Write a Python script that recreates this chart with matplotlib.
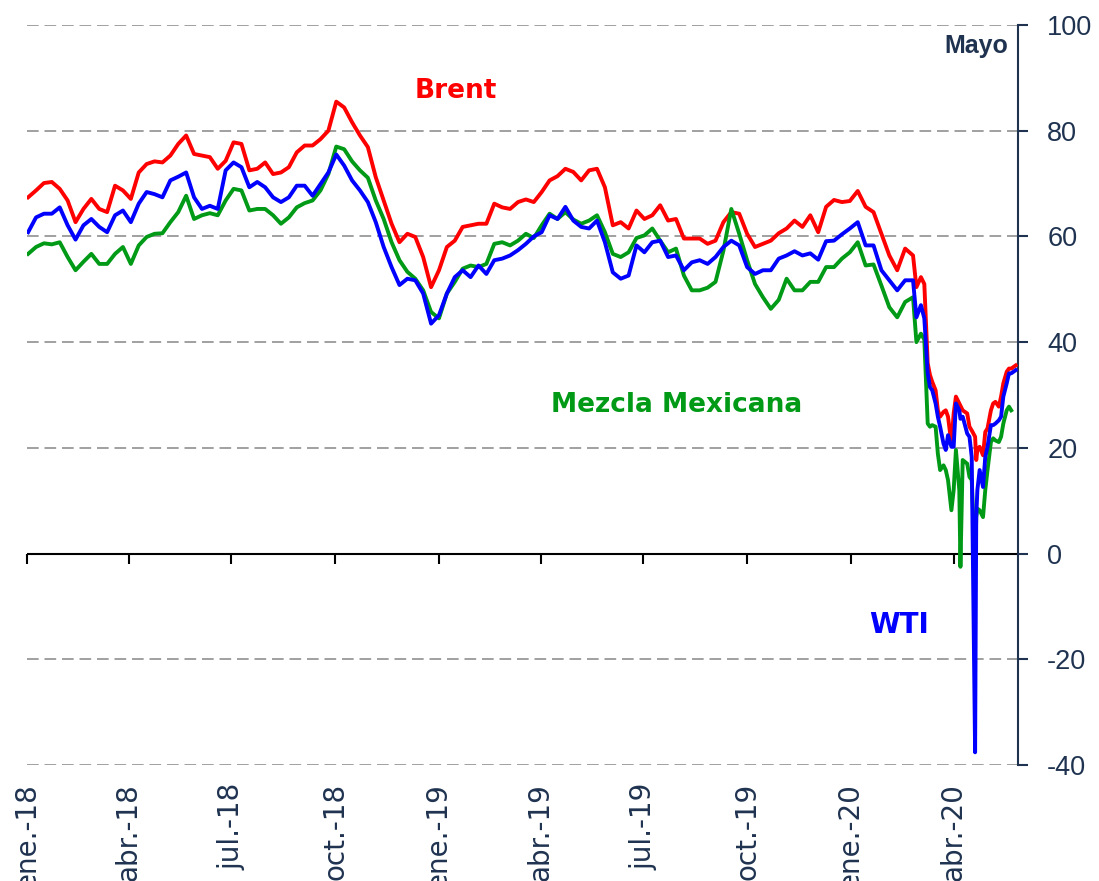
import numpy as np
import pandas as pd
import matplotlib
matplotlib.use("Agg")
import matplotlib.pyplot as plt
import matplotlib.dates as mdates

# weekly readings, 2 Jan 2018 .. 25 Feb 2020 (113 weeks)
week_start = "2018-01-02"
brent_weekly = [
    67.4, 68.7, 70.1, 70.3, 69.0, 66.8, 62.7, 65.2, 67.1, 65.2, 64.6, 69.6, 68.7, 67.1, 72.1, 73.7,
    74.2, 74.0, 75.3, 77.5, 79.1, 75.6, 75.3, 75.0, 72.8, 74.3, 77.8, 77.5, 72.5, 72.8, 74.0, 71.8,
    72.1, 73.1, 75.9, 77.2, 77.2, 78.4, 80.0, 85.5, 84.4, 81.6, 79.1, 76.9, 71.2, 66.8, 62.4, 58.9,
    60.5, 59.9, 56.1, 50.4, 53.6, 58.0, 59.2, 61.8, 62.1, 62.4, 62.4, 66.2, 65.5, 65.2, 66.5, 67.0,
    66.5, 68.4, 70.6, 71.4, 72.8, 72.2, 70.6, 72.5, 72.8, 69.3, 62.1, 62.7, 61.5, 64.9, 63.3, 64.0,
    65.9, 63.0, 63.3, 59.6, 59.6, 59.6, 58.6, 59.2, 62.7, 64.6, 64.3, 60.5, 58.0, 58.6, 59.2, 60.6,
    61.5, 63.0, 61.8, 64.0, 60.8, 65.6, 66.9, 66.5, 66.7, 68.6, 65.6, 64.6, 60.5, 56.4, 53.6, 57.7,
    56.4,
]
wti_weekly = [
    60.8, 63.6, 64.3, 64.3, 65.5, 62.1, 59.4, 62.1, 63.3, 61.8, 60.8, 64.0, 64.9, 62.7, 66.2, 68.4,
    68.0, 67.4, 70.6, 71.3, 72.1, 67.4, 65.2, 65.8, 65.2, 72.5, 74.0, 73.1, 69.3, 70.3, 69.3, 67.4,
    66.5, 67.4, 69.6, 69.6, 67.7, 69.9, 72.1, 75.5, 73.4, 70.6, 68.7, 66.5, 62.7, 58.0, 54.2, 50.8,
    52.0, 51.7, 49.2, 43.5, 45.1, 49.2, 52.3, 53.6, 52.3, 54.5, 52.9, 55.5, 55.8, 56.4, 57.4, 58.6,
    60.0, 60.8, 64.0, 63.3, 65.6, 63.0, 61.8, 61.5, 63.0, 58.9, 53.2, 52.0, 52.6, 58.3, 57.0, 58.9,
    59.2, 56.1, 56.4, 53.6, 55.1, 55.5, 54.8, 56.1, 58.0, 59.2, 58.3, 54.2, 52.9, 53.6, 53.6, 55.8,
    56.4, 57.2, 56.4, 56.8, 55.6, 59.1, 59.2, 60.4, 61.5, 62.7, 58.3, 58.3, 53.6, 51.7, 49.8, 51.7,
    51.7,
]
mezcla_weekly = [
    56.7, 58.0, 58.7, 58.5, 58.9, 56.1, 53.6, 55.2, 56.7, 54.8, 54.8, 56.7, 58.0, 54.8, 58.3, 59.9,
    60.5, 60.6, 62.7, 64.6, 67.7, 63.3, 64.0, 64.4, 64.0, 66.8, 69.0, 68.7, 64.9, 65.2, 65.2, 64.0,
    62.4, 63.6, 65.5, 66.3, 66.8, 68.7, 71.8, 77.0, 76.5, 74.2, 72.5, 71.1, 66.8, 63.3, 58.9, 55.5,
    53.3, 52.0, 49.8, 45.7, 44.5, 49.2, 51.4, 53.9, 54.5, 54.2, 54.8, 58.6, 58.9, 58.3, 59.2, 60.5,
    59.7, 62.1, 64.3, 63.3, 64.6, 63.2, 62.4, 63.0, 64.0, 60.8, 56.7, 56.1, 57.0, 59.7, 60.2, 61.5,
    59.2, 57.0, 57.7, 52.6, 49.8, 49.8, 50.3, 51.4, 57.3, 65.2, 60.5, 55.5, 51.0, 48.5, 46.3, 48.0,
    52.0, 49.8, 49.8, 51.4, 51.4, 54.2, 54.2, 55.8, 57.0, 58.9, 54.5, 54.7, 50.7, 46.6, 44.7, 47.6,
    48.5,
]

# closer readings for the March-May 2020 crash
crash_dates = [
    "2020-02-28", "2020-03-03", "2020-03-06", "2020-03-09", "2020-03-11", "2020-03-13",
    "2020-03-16", "2020-03-18", "2020-03-20", "2020-03-23", "2020-03-25", "2020-03-27",
    "2020-03-30", "2020-04-01", "2020-04-03", "2020-04-06", "2020-04-07", "2020-04-09",
    "2020-04-13", "2020-04-15", "2020-04-17", "2020-04-20", "2020-04-21", "2020-04-22",
    "2020-04-24", "2020-04-27", "2020-04-29", "2020-05-01", "2020-05-04", "2020-05-06",
    "2020-05-08", "2020-05-11", "2020-05-13", "2020-05-15", "2020-05-18", "2020-05-20",
    "2020-05-22", "2020-05-26",
]
brent_crash = [
    50.4, 52.3, 51.0, 36.0, 33.8, 32.5, 30.9, 27.1, 25.9, 26.8, 27.1, 25.9, 20.8, 26.5, 29.7,
    28.4, 28.0, 27.1, 26.5, 24.0, 23.3, 22.1, 17.7, 19.6, 20.2, 18.6, 23.0, 23.7, 27.1, 28.4,
    28.7, 27.8, 29.7, 32.2, 34.4, 35.0, 35.0, 35.6,
]
wti_crash = [
    44.7, 47.0, 44.5, 34.1, 31.5, 30.9, 28.4, 25.9, 24.0, 20.8, 19.6, 22.4, 20.2, 20.2, 28.4,
    27.1, 25.5, 25.9, 22.7, 22.1, 18.3, -37.6, 6.9, 12.0, 15.8, 12.6, 18.3, 20.2, 24.3, 24.3,
    24.6, 25.2, 25.9, 29.7, 32.2, 34.1, 34.1, 34.7,
]
mezcla_crash = [
    40.0, 41.6, 40.5, 24.6, 24.0, 24.3, 24.0, 18.9, 15.8, 16.7, 15.8, 13.9, 8.2, 12.0, 19.6,
    12.0, -2.5, 17.7, 17.0, 14.5, 13.9, -2.2, 6.9, 8.5, 8.2, 6.9, 12.0, 15.8, 21.1, 21.8,
    21.4, 21.1, 22.1, 24.6, 27.1, 27.8, 27.1, np.nan,
]

tick_labels = ["ene.-18", "abr.-18", "jul.-18", "oct.-18", "ene.-19", "abr.-19",
               "jul.-19", "oct.-19", "ene.-20", "abr.-20"]
y_ticks = [-40, -20, 0, 20, 40, 60, 80, 100]

NAVY = "#1f3350"

dates = pd.date_range(week_start, periods=len(brent_weekly), freq="7D").append(pd.to_datetime(crash_dates))
brent = brent_weekly + brent_crash
wti = wti_weekly + wti_crash
mezcla = mezcla_weekly + mezcla_crash

fig = plt.figure(figsize=(10.99, 8.81), dpi=100)
ax = fig.add_axes([27 / 1099, 1 - 765 / 881, 991 / 1099, 740 / 881])

ax.plot(dates, brent, color="#ff0000", lw=2.8, zorder=3)
ax.plot(dates, mezcla, color="#009a17", lw=2.8, zorder=3)
ax.plot(dates, wti, color="#0000ff", lw=2.8, zorder=4)
ax.axhline(0, color="black", lw=1.5, zorder=2)

ax.set_xlim(pd.Timestamp("2018-01-01"), pd.Timestamp("2020-05-28"))
ax.set_ylim(-40, 100)

tick_pos = mdates.date2num(pd.date_range("2018-01-01", periods=len(tick_labels), freq="QS"))
ax.set_xticks(tick_pos)
ax.set_xticklabels(tick_labels, rotation=90, fontsize=20, color=NAVY)
ax.tick_params(axis="x", length=0, pad=13)

ax.yaxis.tick_right()
ax.set_yticks(y_ticks)
ax.set_yticklabels([str(v) for v in y_ticks], family="Liberation Sans")
ax.tick_params(axis="y", direction="out", length=7, width=1.5, colors=NAVY, labelsize=19.5, pad=14)

ax.grid(axis="y", color="#a0a0a0", lw=1.4, linestyle=(0, (6, 3)))
for side in ["top", "left", "bottom"]:
    ax.spines[side].set_visible(False)
ax.spines["right"].set_color(NAVY)
ax.spines["right"].set_linewidth(1.5)

# quarter ticks hanging from the zero line
zero_ax = ax.secondary_xaxis(0, transform=ax.transData)
zero_ax.set_xticks(tick_pos)
zero_ax.tick_params(axis="x", direction="out", length=7, width=1.5, color="black", labelbottom=False)
zero_ax.spines["bottom"].set_visible(False)

ax.text(0.433, 0.911, "Brent", transform=ax.transAxes, color="#ff0000", fontsize=19,
        fontweight="bold", ha="center", va="center")
ax.text(0.656, 0.486, "Mezcla Mexicana", transform=ax.transAxes, color="#009a17", fontsize=19,
        fontweight="bold", ha="center", va="center")
ax.text(0.880, 0.189, "WTI", transform=ax.transAxes, color="#0000ff", fontsize=20,
        fontweight="bold", ha="center", va="center")
ax.text(0.990, 0.972, "Mayo", transform=ax.transAxes, color=NAVY, fontsize=18,
        fontweight="bold", ha="right", va="center", family="Liberation Sans")

plt.savefig("out.png", dpi=100)
